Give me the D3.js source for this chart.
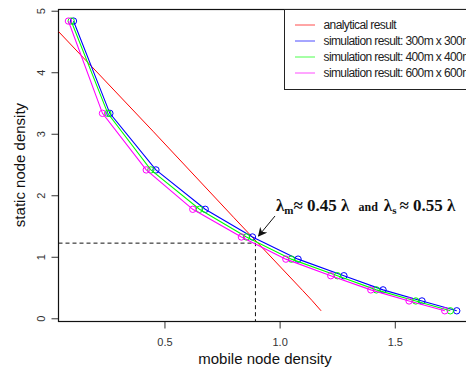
<!DOCTYPE html>
<html>
<head>
<meta charset="utf-8">
<script src="https://cdn.jsdelivr.net/npm/d3@7"></script>
<style>
  body { margin: 0; background: #fff; }
  svg { display: block; }
</style>
</head>
<body>
<div id="chart"></div>
<script>
// values
const staticDensity = [4.84, 3.34, 2.42, 1.78, 1.33, 0.97, 0.70, 0.47, 0.29, 0.13];
const mobile300 = [0.105, 0.263, 0.463, 0.677, 0.882, 1.080, 1.279, 1.449, 1.618, 1.769];
const mobile400 = [0.095, 0.254, 0.441, 0.652, 0.856, 1.051, 1.251, 1.420, 1.591, 1.741];
const mobile600 = [0.083, 0.231, 0.421, 0.623, 0.834, 1.027, 1.222, 1.396, 1.562, 1.717];
const analyticalX = [0.04, 0.45, 0.80, 1.10, 1.14, 1.18];
const analyticalY = [4.67, 3.05, 1.65, 0.46, 0.30, 0.13];
const crossing = [0.895, 1.23];
const xTicks = [0.5, 1.0, 1.5];
const yTicks = [0, 1, 2, 3, 4, 5];
const legendLabels = [
  'analytical result',
  'simulation result: 300m x 300m',
  'simulation result: 400m x 400m',
  'simulation result: 600m x 600m'
];
const seriesColors = ['#ff0000', '#0000ff', '#00ff00', '#ff00ff'];

const width = 466, height = 368;
const plot = { left: 58.5, top: 9.5, right: 468.5, bottom: 321.5 };
const sans = 'Liberation Sans, Arial, sans-serif';
const serif = 'Liberation Serif, Times New Roman, serif';

const svg = d3.select('#chart').append('svg')
  .attr('width', width)
  .attr('height', height);

const xScale = d3.scaleLinear().domain([0.04, 1.82]).range([plot.left, plot.right]);
const yScale = d3.scaleLinear().domain([-0.044, 5.028]).range([plot.bottom, plot.top]);

// clip to plot region
svg.append('clipPath').attr('id', 'clip')
  .append('rect')
  .attr('x', plot.left).attr('y', plot.top)
  .attr('width', plot.right - plot.left).attr('height', plot.bottom - plot.top);

// y axis, labels turned like R does
const yAxis = svg.append('g')
  .attr('transform', `translate(${plot.left},0)`)
  .call(d3.axisLeft(yScale).tickValues(yTicks).tickFormat(d3.format('d')).tickSize(7));
yAxis.select('.domain').remove();
yAxis.selectAll('.tick').attr('transform', null);
yAxis.selectAll('.tick line')
  .attr('stroke', '#333')
  .attr('y1', d => yScale(d)).attr('y2', d => yScale(d));
yAxis.selectAll('.tick text')
  .attr('transform', 'rotate(-90)')
  .attr('x', d => -yScale(d))
  .attr('y', -14)
  .attr('dy', 0)
  .attr('text-anchor', 'middle')
  .attr('font-family', sans)
  .attr('font-size', 11)
  .attr('fill', '#333');

const xAxis = svg.append('g')
  .attr('transform', `translate(0,${plot.bottom})`)
  .call(d3.axisBottom(xScale).tickValues(xTicks).tickFormat(d3.format('.1f')).tickSize(7).tickPadding(10));
xAxis.select('.domain').remove();
xAxis.selectAll('line').attr('stroke', '#333');
xAxis.selectAll('text')
  .attr('font-family', sans)
  .attr('font-size', 11)
  .attr('fill', '#333');

// frame
svg.append('rect')
  .attr('x', plot.left).attr('y', plot.top)
  .attr('width', plot.right - plot.left).attr('height', plot.bottom - plot.top)
  .attr('fill', 'none').attr('stroke', '#111').attr('stroke-width', 1.2);

// axis titles
svg.append('text')
  .attr('x', 265).attr('y', 364)
  .attr('text-anchor', 'middle')
  .attr('font-family', sans)
  .attr('font-size', 15)
  .attr('fill', '#111')
  .text('mobile node density');

svg.append('text')
  .attr('transform', 'translate(25,165) rotate(-90)')
  .attr('text-anchor', 'middle')
  .attr('font-family', sans)
  .attr('font-size', 15)
  .attr('fill', '#111')
  .text('static node density');

const body = svg.append('g').attr('clip-path', 'url(#clip)');

// dashed guides to the crossing point
body.append('path')
  .attr('d', `M${plot.left},${yScale(crossing[1])}H${xScale(crossing[0])}V${plot.bottom}`)
  .attr('fill', 'none')
  .attr('stroke', '#111')
  .attr('stroke-width', 1)
  .attr('stroke-dasharray', '4,3');

const line = d3.line().x(d => xScale(d[0])).y(d => yScale(d[1]));

// analytical result
body.append('path')
  .datum(d3.zip(analyticalX, analyticalY))
  .attr('d', line)
  .attr('fill', 'none')
  .attr('stroke', seriesColors[0])
  .attr('stroke-width', 1);

// simulation results
[mobile300, mobile400, mobile600].forEach((xs, i) => {
  const pts = d3.zip(xs, staticDensity);
  const g = body.append('g');
  g.append('path')
    .datum(pts)
    .attr('d', line)
    .attr('fill', 'none')
    .attr('stroke', seriesColors[i + 1])
    .attr('stroke-width', 1.1);
  g.selectAll('circle')
    .data(pts)
    .enter()
    .append('circle')
    .attr('cx', d => xScale(d[0]))
    .attr('cy', d => yScale(d[1]))
    .attr('r', 3.2)
    .attr('fill', 'none')
    .attr('stroke', seriesColors[i + 1])
    .attr('stroke-width', 1);
});

// legend (runs off the right edge, as in the original)
const legend = svg.append('g');
legend.append('rect')
  .attr('x', 284.5).attr('y', plot.top)
  .attr('width', 200).attr('height', 80)
  .attr('fill', '#fff').attr('stroke', '#222').attr('stroke-width', 1);
legendLabels.forEach((label, i) => {
  const y = 25 + i * 16;
  legend.append('line')
    .attr('x1', 295).attr('x2', 315)
    .attr('y1', y).attr('y2', y)
    .attr('stroke', seriesColors[i])
    .attr('stroke-opacity', 0.7)
    .attr('stroke-width', 1);
  legend.append('text')
    .attr('x', 323.5).attr('y', y + 4)
    .attr('font-family', sans)
    .attr('font-size', 12)
    .attr('letter-spacing', -0.6)
    .attr('fill', '#222')
    .text(label);
});

// annotation arrow
svg.append('defs').append('marker')
  .attr('id', 'head')
  .attr('viewBox', '0 0 10 10')
  .attr('refX', 9).attr('refY', 5)
  .attr('markerWidth', 9).attr('markerHeight', 9)
  .attr('orient', 'auto')
  .append('path')
  .attr('d', 'M0,0L10,5L0,10L3,5Z')
  .attr('fill', '#111');

svg.append('line')
  .attr('x1', 275).attr('y1', 216)
  .attr('x2', 258.5).attr('y2', 236)
  .attr('stroke', '#111')
  .attr('stroke-width', 1)
  .attr('marker-end', 'url(#head)');

// annotation text
const note = svg.append('text')
  .attr('x', 276).attr('y', 211)
  .attr('font-family', serif)
  .attr('font-weight', 'bold')
  .attr('font-size', 17)
  .attr('fill', '#111');
note.append('tspan').text('λ');
note.append('tspan').attr('font-size', 11).attr('dy', 3).text('m');
note.append('tspan').attr('dy', -3).text('≈ 0.45 λ');
note.append('tspan').attr('font-size', 12).attr('dx', 9).text('and');
note.append('tspan').attr('dx', 6).text('λ');
note.append('tspan').attr('font-size', 11).attr('dy', 3).text('s');
note.append('tspan').attr('dy', -3).attr('dx', 3).text('≈ 0.55 λ');
</script>
</body>
</html>
